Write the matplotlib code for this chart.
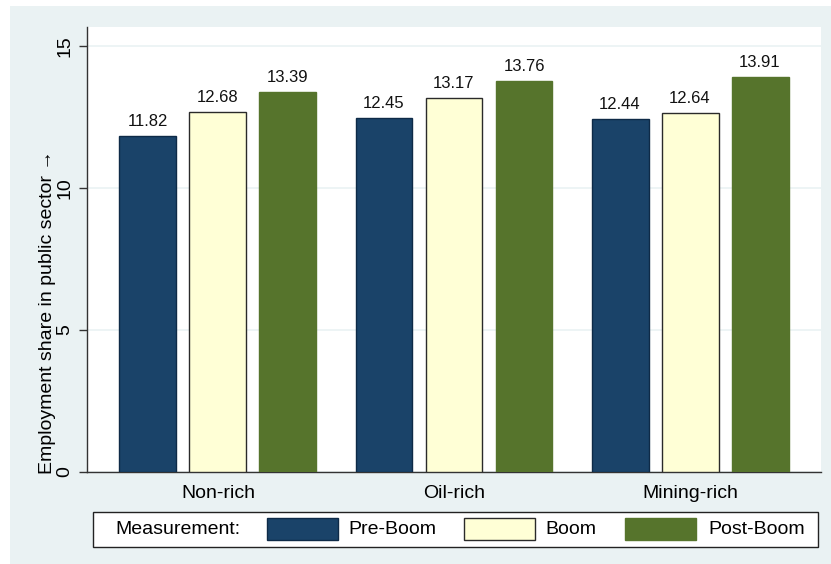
import matplotlib
matplotlib.use("Agg")
import matplotlib.pyplot as plt
from matplotlib.patches import Rectangle
import numpy as np

plt.rcParams['font.family'] = ['Liberation Sans', 'DejaVu Sans']

categories = ["Non-rich", "Oil-rich", "Mining-rich"]
series_names = ["Pre-Boom", "Boom", "Post-Boom"]
pre_boom = [11.82, 12.45, 12.44]
boom = [12.68, 13.17, 12.64]
post_boom = [13.39, 13.76, 13.91]
yticks = [0, 5, 10, 15]
legend_title = "Measurement:"
ylabel = "Employment share in public sector \u2192"

colors = ["#1A4369", "#FFFFD6", "#56742C"]
edges = ["#0E2A47", "#2A2A2A", "#56742C"]
bg = "#EAF2F3"

fig = plt.figure(figsize=(8.31, 5.64), dpi=100)
fig.patch.set_facecolor("white")
fig.patches.append(Rectangle((10/831, 0), 1 - 10/831, 1 - 6/564,
                             transform=fig.transFigure, facecolor=bg,
                             edgecolor="none", zorder=-10))

ax = fig.add_axes([87/831, 92/564, (821-87)/831, (472-27)/564])
ax.set_facecolor("white")

x = np.arange(len(categories))
step = 0.2966
width = 0.2415
data = [pre_boom, boom, post_boom]
for j, (vals, name) in enumerate(zip(data, series_names)):
    bars = ax.bar(x + (j - 1) * step, vals, width=width, color=colors[j],
                  edgecolor=edges[j], linewidth=1.0, label=name, zorder=3)
    for b, v in zip(bars, vals):
        ax.annotate(f"{v:.2f}", (b.get_x() + b.get_width() / 2, v),
                    xytext=(0, 5), textcoords="offset points",
                    ha="center", va="bottom", fontsize=12, color="#111111")

ax.set_xlim(-0.555, 2.555)
ax.set_ylim(0, 15.67)
ax.set_yticks(yticks)
ax.set_yticklabels([str(t) for t in yticks], rotation=90, va="center",
                   fontsize=14)
ax.set_xticks(x)
ax.set_xticklabels(categories, fontsize=14)
ax.tick_params(axis="x", length=0, pad=9)
ax.tick_params(axis="y", length=6, width=1, color="#333333", pad=4)
ax.grid(axis="y", color=bg, linewidth=1.2, zorder=0)
ax.set_axisbelow(True)
for s in ["top", "right"]:
    ax.spines[s].set_visible(False)
for s in ["left", "bottom"]:
    ax.spines[s].set_color("#333333")
    ax.spines[s].set_linewidth(1.0)

fig.text(48/831, 1 - 312/564, ylabel, rotation=90, ha="center",
         va="center", fontsize=14)

# legend box
lx0, ly0, lx1, ly1 = 93, 512, 818, 547
fig.patches.append(Rectangle((lx0/831, 1 - ly1/564), (lx1-lx0)/831,
                             (ly1-ly0)/564, transform=fig.transFigure,
                             facecolor="white", edgecolor="#222222",
                             linewidth=1.0, zorder=1))
ymid = 1 - 529.5/564
fig.text(115/831, ymid, legend_title, ha="left", va="center", fontsize=14,
         zorder=2)
patch_x = [267, 464, 625]
text_x = [348, 545, 708]
for j, name in enumerate(series_names):
    fig.patches.append(Rectangle((patch_x[j]/831, 1 - 540/564), 71/831,
                                 22/564, transform=fig.transFigure,
                                 facecolor=colors[j], edgecolor=edges[j],
                                 linewidth=1.0, zorder=2))
    fig.text(text_x[j]/831, ymid, name, ha="left", va="center",
             fontsize=14, zorder=2)

fig.savefig("out.png", dpi=100, facecolor=fig.get_facecolor())
